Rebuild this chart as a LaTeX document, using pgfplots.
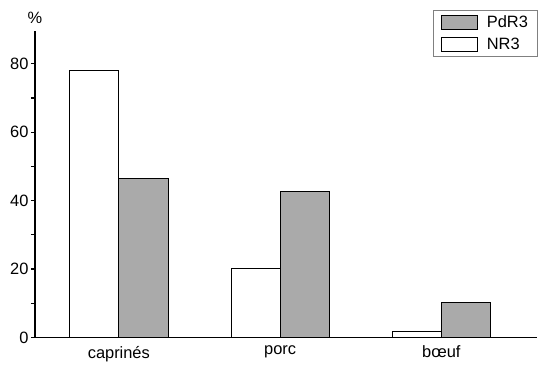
\documentclass[border=0pt]{standalone}
\usepackage{fontspec}
\setmainfont{Liberation Sans}
\usepackage{pgfplots}
\pgfplotsset{compat=1.18}
\definecolor{bargray}{HTML}{AAAAAA}
\begin{document}
\begin{tikzpicture}
\begin{axis}[
  name=ax,
  scale only axis,
  width=503bp, height=307bp,
  xmin=-0.52, xmax=2.594,
  ymin=0, ymax=89.6,
  axis x line=bottom, axis y line=left,
  axis line style={-, line width=1.6pt},
  ybar=0pt, bar width=0.305,
  xtick={0,1,2},
  xticklabels={caprinés, porc, bœuf},
  x tick style={draw=none},
  ytick={0,20,40,60,80},
  minor ytick={10,30,50,70},
  tick align=outside,
  major tick length=4bp, minor tick length=4bp,
  y tick style={line width=1.2pt, black},
  ticklabel style={font=\fontsize{16.5}{18}\selectfont},
  /pgf/number format/assume math mode=true,
  yticklabel style={xshift=1bp},
  xticklabel style={yshift=-1bp},
  ylabel={\%},
  ylabel style={rotate=-90, at={(axis description cs:0,1)}, anchor=south, yshift=4bp, font=\fontsize{16.5}{18}\selectfont},
  legend style={at={(rel axis cs:1,1.068)}, anchor=north east, draw=gray, line width=0.6pt,
    font=\fontsize{16.5}{18}\selectfont, inner xsep=7bp, inner ysep=1bp,
    nodes={inner sep=2bp}},
  legend image code/.code={\draw[#1, line width=0.8pt] (0bp,-7bp) rectangle (37bp,7bp);
     \path[draw=none, fill=none] (0bp,-11bp) rectangle (44bp,11bp);},
  legend cell align=left,
  reverse legend,
]
\addplot[draw=black, fill=white, line width=0.8pt] coordinates {(0,78) (1,20.1) (2,1.8)};
\addplot[draw=black, fill=bargray, line width=0.8pt] coordinates {(0,46.4) (1,42.6) (2,10.2)};
\legend{NR3, PdR3}
\end{axis}
\path ([shift={(-35bp,-29bp)}]ax.south west) rectangle ([shift={(0bp,31bp)}]ax.north east);
\end{tikzpicture}
\end{document}
